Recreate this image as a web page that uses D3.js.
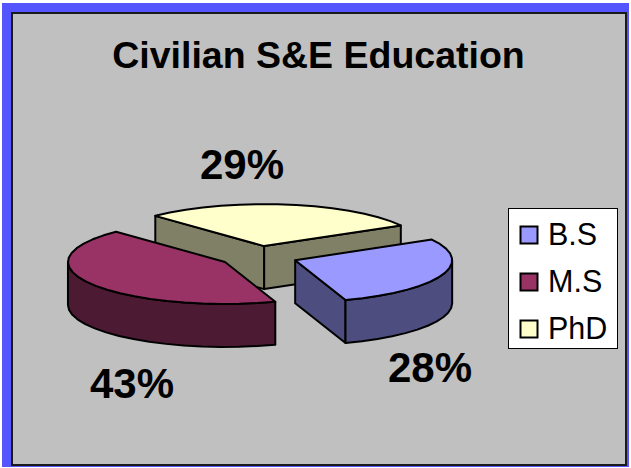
<!DOCTYPE html>
<html>
    <head>
        <script src="https://d3js.org/d3.v7.min.js"></script>
        <style>
            body, html {
                margin: 0;
                padding: 0;
                background: #FFFFFF;
                font-family: "Liberation Sans", Arial, Helvetica, sans-serif;
            }
            svg {
                display: block;
            }
        </style>
    </head>
    <body>
        <div id="chart"></div>
        <script>

            /* DATA */
            const categories = ["B.S", "M.S", "PhD"];
            const values = [28, 43, 29];
            const topColors = ["#9999FF", "#993366", "#FFFFCC"];
            const wallColors = ["#4D4D80", "#4D1A33", "#808066"];

            const width = 631;
            const height = 468;

            /* pie geometry: flattened ellipse, pulled apart slices */
            const center = {x: 258.5, y: 256.5};
            const rx = 157;
            const ry = 42;
            const depth = 43;
            const explode = 0.25;
            const firstAngle = 60.5 * Math.PI / 180;
            const labelPos = [[430, 382], [132, 398], [242, 179]];

            const svg = d3.select("#chart")
                .append("svg")
                .attr("width", width)
                .attr("height", height);

            /* frame */
            svg.append("rect")
                .attr("x", 2).attr("y", 3)
                .attr("width", 627).attr("height", 464)
                .attr("fill", "#5555FF");

            svg.append("rect")
                .attr("x", 12).attr("y", 13)
                .attr("width", 614).attr("height", 452)
                .attr("fill", "#C0C0C0")
                .attr("stroke", "#1A1A1A")
                .attr("stroke-width", 2);

            svg.append("text")
                .attr("x", 318.5)
                .attr("y", 68)
                .attr("text-anchor", "middle")
                .attr("font-size", 37.5)
                .attr("font-weight", "bold")
                .attr("fill", "#000000")
                .text("Civilian S&E Education");

            /* PIE */
            const pie = d3.pie()
                .sort(null)
                .startAngle(firstAngle)
                .endAngle(firstAngle + 2 * Math.PI);

            const slices = pie(values);

            // angle is clockwise from the top, like d3.pie
            function project(c, a, r) {
                return [c.x + rx * r * Math.sin(a), c.y - ry * r * Math.cos(a)];
            }

            function arcPoints(c, a0, a1) {
                const n = Math.max(2, Math.ceil((a1 - a0) / (7 * Math.PI / 180)));
                return d3.range(n + 1).map(i => project(c, a0 + (a1 - a0) * i / n, 1));
            }

            const drop = p => [p[0], p[1] + depth];

            const closedLine = d3.line().curve(d3.curveLinearClosed);

            const pieLayer = svg.append("g")
                .attr("stroke", "#000000")
                .attr("stroke-width", 2)
                .attr("stroke-linejoin", "round");

            // back slice first, front ones after
            [2, 1, 0].forEach(function(i) {
                const d = slices[i];
                const mid = (d.startAngle + d.endAngle) / 2;
                const c = {
                    x: project(center, mid, explode)[0],
                    y: project(center, mid, explode)[1]
                };
                const apex = [c.x, c.y];
                const g = pieLayer.append("g");

                // radial walls, only when they face the viewer
                if (Math.sin(d.startAngle) < 0) {
                    const p = project(c, d.startAngle, 1);
                    g.append("path")
                        .attr("d", closedLine([apex, p, drop(p), drop(apex)]))
                        .attr("fill", wallColors[i]);
                }
                if (Math.sin(d.endAngle) > 0) {
                    const p = project(c, d.endAngle, 1);
                    g.append("path")
                        .attr("d", closedLine([apex, p, drop(p), drop(apex)]))
                        .attr("fill", wallColors[i]);
                }

                // outer wall, the part of the rim on the front half
                for (let k = 0; k < 2; k++) {
                    const a0 = Math.max(d.startAngle, Math.PI / 2 + k * 2 * Math.PI);
                    const a1 = Math.min(d.endAngle, 3 * Math.PI / 2 + k * 2 * Math.PI);
                    if (a1 > a0) {
                        const rim = arcPoints(c, a0, a1);
                        g.append("path")
                            .attr("d", closedLine(rim.concat(rim.map(drop).reverse())))
                            .attr("fill", wallColors[i]);
                    }
                }

                // top face
                g.append("path")
                    .attr("d", closedLine([apex].concat(arcPoints(c, d.startAngle, d.endAngle))))
                    .attr("fill", topColors[i]);
            });

            /* PERCENT LABELS */
            svg.append("g")
                .selectAll("text")
                .data(values)
                .enter()
                .append("text")
                    .attr("x", (d, i) => labelPos[i][0])
                    .attr("y", (d, i) => labelPos[i][1])
                    .attr("text-anchor", "middle")
                    .attr("font-size", 42)
                    .attr("font-weight", "bold")
                    .attr("fill", "#000000")
                    .text(d => d + "%");

            /* LEGEND */
            const legendY = d3.scalePoint()
                .domain(categories)
                .range([235, 329]);

            svg.append("rect")
                .attr("x", 508.5).attr("y", 208.5)
                .attr("width", 109).attr("height", 140)
                .attr("fill", "#FFFFFF")
                .attr("stroke", "#000000")
                .attr("stroke-width", 1);

            const legend = svg.append("g")
                .selectAll("g")
                .data(categories)
                .enter()
                .append("g")
                    .attr("transform", d => `translate(0,${legendY(d)})`);

            legend.append("rect")
                .attr("x", 520.5).attr("y", -8.5)
                .attr("width", 17).attr("height", 17)
                .attr("fill", (d, i) => topColors[i])
                .attr("stroke", "#000000")
                .attr("stroke-width", 2);

            legend.append("text")
                .attr("x", 548)
                .attr("y", 9.5)
                .attr("font-size", 30.5)
                .attr("fill", "#000000")
                .text(d => d);

        </script>
    </body>
</html>
